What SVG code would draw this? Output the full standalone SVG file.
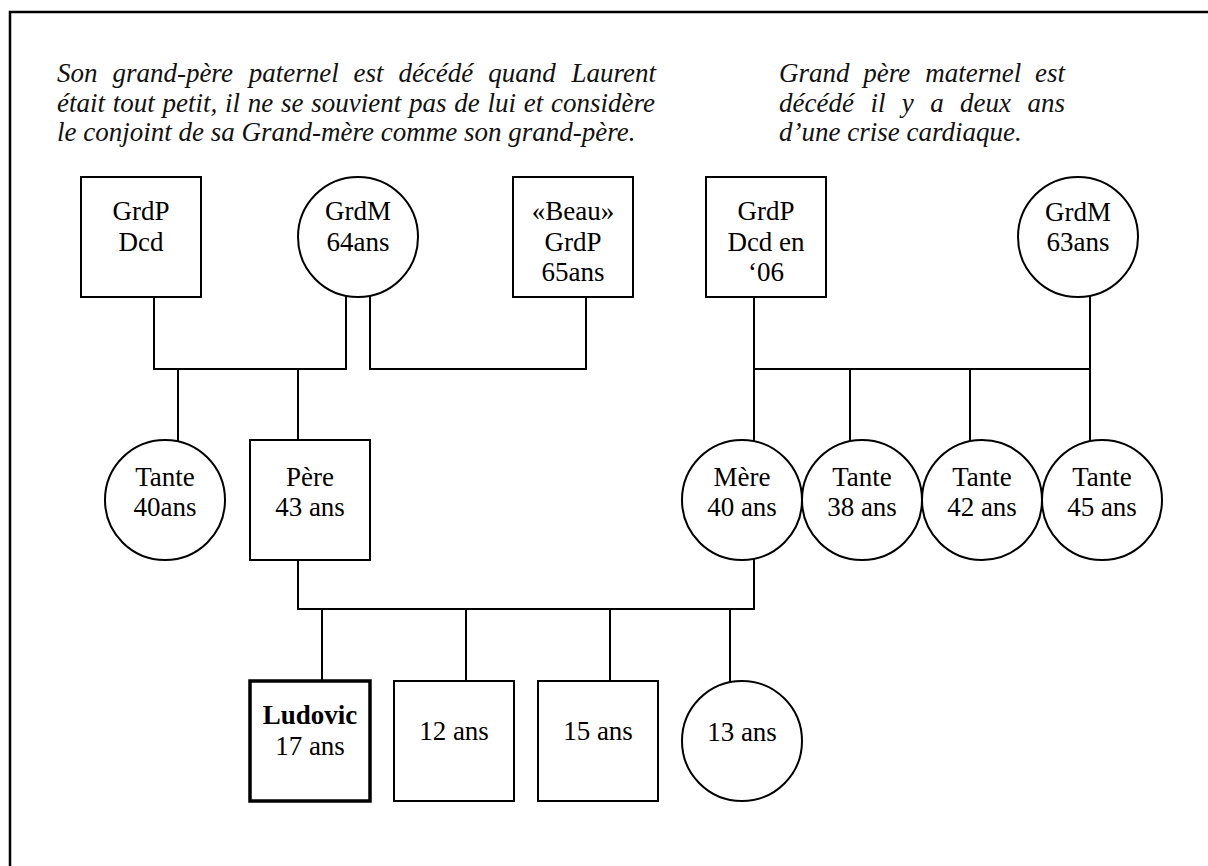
<svg xmlns="http://www.w3.org/2000/svg" width="1208" height="866" viewBox="0 0 1208 866">
<style>
.n{fill:#fff;stroke:#000;stroke-width:2}
.b{fill:#fff;stroke:#000;stroke-width:3.5}
.t{font-family:"Liberation Serif","DejaVu Serif",serif;font-size:27px;fill:#000;text-anchor:middle}
.p{font-family:"Liberation Serif","DejaVu Serif",serif;font-size:27px;font-style:italic;fill:#111}
.c{fill:none;stroke:#000;stroke-width:2}
.f{fill:none;stroke:#000;stroke-width:2.5}
</style>
<rect width="1208" height="866" fill="#fff"/>
<path class="f" d="M10,866 V12 H1208"/>
<g id="note-left">
<text class="p" y="82"><tspan x="57">Son</tspan><tspan x="112.4">grand-père</tspan><tspan x="248.7">paternel</tspan><tspan x="353.5">est</tspan><tspan x="398.4">décédé</tspan><tspan x="488.2">quand</tspan><tspan x="656" text-anchor="end">Laurent</tspan></text>
<text class="p" x="57" y="112" style="word-spacing:1px">était tout petit, il ne se souvient pas de lui et considère</text>
<text class="p" x="57" y="141">le conjoint de sa Grand-mère comme son grand-père.</text>
</g>
<g id="note-right">
<text class="p" y="82"><tspan x="779">Grand</tspan><tspan x="863.3">père</tspan><tspan x="925.2">maternel</tspan><tspan x="1065" text-anchor="end">est</tspan></text>
<text class="p" y="112"><tspan x="779">décédé</tspan><tspan x="870.4">il</tspan><tspan x="901.8">y</tspan><tspan x="930.2">a</tspan><tspan x="960.1">deux</tspan><tspan x="1065" text-anchor="end">ans</tspan></text>
<text class="p" x="779" y="141">d’une crise cardiaque.</text>
</g>
<g id="connectors">
<path class="c" d="M154,297 V369 H346 V296"/>
<path class="c" d="M370,296 V369 H586 V297"/>
<path class="c" d="M178,369 V441"/>
<path class="c" d="M298,369 V440"/>
<path class="c" d="M754,297 V441"/>
<path class="c" d="M1090,296 V441"/>
<path class="c" d="M754,369 H1090"/>
<path class="c" d="M850,369 V441"/>
<path class="c" d="M970,369 V441"/>
<path class="c" d="M298,560 V609 H754 V559"/>
<path class="c" d="M322,609 V681"/>
<path class="c" d="M466,609 V681"/>
<path class="c" d="M610,609 V681"/>
<path class="c" d="M730,609 V682"/>
</g>
<g id="grdp-paternel">
<rect class="n" x="81" y="177" width="120" height="120"/>
<text class="t" x="141" y="220">GrdP</text>
<text class="t" x="141" y="251">Dcd</text>
</g>
<g id="grdm-paternelle">
<circle class="n" cx="358" cy="237" r="60"/>
<text class="t" x="358" y="220">GrdM</text>
<text class="t" x="358" y="251">64ans</text>
</g>
<g id="beau-grdp">
<rect class="n" x="513" y="177" width="120" height="120"/>
<text class="t" x="573" y="220">«Beau»</text>
<text class="t" x="573" y="251">GrdP</text>
<text class="t" x="573" y="281">65ans</text>
</g>
<g id="grdp-maternel">
<rect class="n" x="706" y="177" width="120" height="120"/>
<text class="t" x="766" y="220">GrdP</text>
<text class="t" x="766" y="251">Dcd en</text>
<text class="t" x="766" y="281">‘06</text>
</g>
<g id="grdm-maternelle">
<circle class="n" cx="1078" cy="237" r="60"/>
<text class="t" x="1078" y="221">GrdM</text>
<text class="t" x="1078" y="251">63ans</text>
</g>
<g id="tante-40">
<circle class="n" cx="165" cy="500" r="60"/>
<text class="t" x="165" y="486">Tante</text>
<text class="t" x="165" y="516">40ans</text>
</g>
<g id="pere">
<rect class="n" x="250" y="440" width="120" height="120"/>
<text class="t" x="310" y="486">Père</text>
<text class="t" x="310" y="516">43 ans</text>
</g>
<g id="mere">
<circle class="n" cx="742" cy="500" r="60"/>
<text class="t" x="742" y="486">Mère</text>
<text class="t" x="742" y="516">40 ans</text>
</g>
<g id="tante-38">
<circle class="n" cx="862" cy="500" r="60"/>
<text class="t" x="862" y="486">Tante</text>
<text class="t" x="862" y="516">38 ans</text>
</g>
<g id="tante-42">
<circle class="n" cx="982" cy="500" r="60"/>
<text class="t" x="982" y="486">Tante</text>
<text class="t" x="982" y="516">42 ans</text>
</g>
<g id="tante-45">
<circle class="n" cx="1102" cy="500" r="60"/>
<text class="t" x="1102" y="486">Tante</text>
<text class="t" x="1102" y="516">45 ans</text>
</g>
<g id="ludovic">
<rect class="b" x="250" y="681" width="120" height="120"/>
<text class="t" x="310" y="724" font-weight="bold">Ludovic</text>
<text class="t" x="310" y="755">17 ans</text>
</g>
<g id="frere-12">
<rect class="n" x="394" y="681" width="120" height="120"/>
<text class="t" x="454" y="740">12 ans</text>
</g>
<g id="frere-15">
<rect class="n" x="538" y="681" width="120" height="120"/>
<text class="t" x="598" y="740">15 ans</text>
</g>
<g id="soeur-13">
<circle class="n" cx="742" cy="741" r="60"/>
<text class="t" x="742" y="741">13 ans</text>
</g>
</svg>
